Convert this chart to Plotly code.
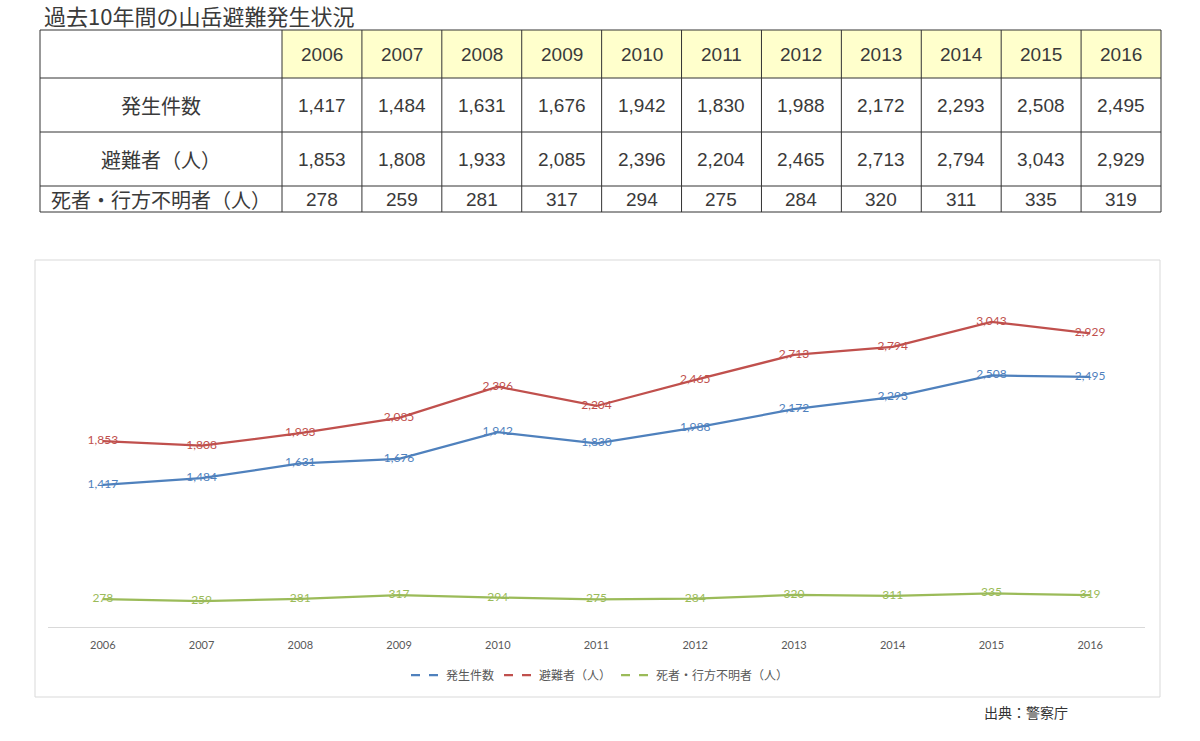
import plotly.graph_objects as go

years = ["2006", "2007", "2008", "2009", "2010", "2011", "2012", "2013", "2014", "2015", "2016"]
incidents = [1417, 1484, 1631, 1676, 1942, 1830, 1988, 2172, 2293, 2508, 2495]
victims = [1853, 1808, 1933, 2085, 2396, 2204, 2465, 2713, 2794, 3043, 2929]
deaths = [278, 259, 281, 317, 294, 275, 284, 320, 311, 335, 319]
row_labels = ["発生件数", "避難者（人）", "死者・行方不明者（人）"]
series_names = ["発生件数", "避難者（人）", "死者・行方不明者（人）"]
colors = ["#4f81bd", "#c0504d", "#9bbb59"]
title_text = "過去10年間の山岳避難発生状況"
source_text = "出典：警察庁"

W, H = 1200, 741
def px(x):
    return x / W
def py(y):
    return 1 - y / H

fig = go.Figure()

series = [incidents, victims, deaths]
for name, vals, col in zip(series_names, series, colors):
    fig.add_trace(go.Scatter(
        x=years, y=vals, mode="lines+text",
        text=[f"{v:,}" for v in vals], textposition="middle center",
        textfont=dict(family="Lato, Noto Sans", size=12, color=col),
        line=dict(color=col, width=2.25), showlegend=False, hoverinfo="skip"))
    fig.add_trace(go.Scatter(
        x=[None], y=[None], mode="lines", name=name,
        line=dict(color=col, width=2.25, dash="dash"), showlegend=True))

shapes = []
annotations = []

# chart border
shapes.append(dict(type="rect", xref="paper", yref="paper",
                   x0=px(35), x1=px(1160), y0=py(697), y1=py(260),
                   line=dict(color="#d9d9d9", width=1), fillcolor="rgba(0,0,0,0)", layer="below"))

# table geometry
tx0, tx1 = 40, 1161
col0 = 282
cw = (tx1 - col0) / len(years)
row_edges = [30, 78, 132, 186, 212]
col_edges = [tx0] + [col0 + i * cw for i in range(len(years) + 1)]

# header yellow
for i in range(len(years)):
    shapes.append(dict(type="rect", xref="paper", yref="paper",
                       x0=px(col_edges[i + 1]), x1=px(col_edges[i + 2]),
                       y0=py(row_edges[1]), y1=py(row_edges[0]),
                       fillcolor="#FFFFCC", line=dict(width=0), layer="below"))
for y in row_edges:
    shapes.append(dict(type="line", xref="paper", yref="paper",
                       x0=px(tx0), x1=px(tx1), y0=py(y), y1=py(y),
                       line=dict(color="#333333", width=1)))
for x in col_edges:
    shapes.append(dict(type="line", xref="paper", yref="paper",
                       x0=px(x), x1=px(x), y0=py(row_edges[0]), y1=py(row_edges[-1]),
                       line=dict(color="#333333", width=1)))

tfont = dict(family="Liberation Sans, Noto Sans CJK JP", size=19, color="#3a3a3a")
jfont = dict(family="Noto Sans CJK JP", size=20, color="#3a3a3a")

def cell_text(text, ci, ri, font):
    xc = (col_edges[ci] + col_edges[ci + 1]) / 2
    yc = (row_edges[ri] + row_edges[ri + 1]) / 2
    annotations.append(dict(text=text, xref="paper", yref="paper", x=px(xc), y=py(yc),
                            xanchor="center", yanchor="middle", showarrow=False, font=font))

for i, yr in enumerate(years):
    cell_text(yr, i + 1, 0, tfont)
for r, (lab, vals) in enumerate(zip(row_labels, series)):
    cell_text(lab, 0, r + 1, jfont)
    for i, v in enumerate(vals):
        cell_text(f"{v:,}", i + 1, r + 1, tfont)

annotations.append(dict(text=title_text, xref="paper", yref="paper", x=px(42), y=py(15),
                        xanchor="left", yanchor="middle", showarrow=False,
                        font=dict(family="Noto Sans CJK JP", size=22, color="#3a3a3a")))
annotations.append(dict(text=source_text, xref="paper", yref="paper", x=px(1026), y=py(712),
                        xanchor="center", yanchor="middle", showarrow=False,
                        font=dict(family="Noto Sans CJK JP", size=14, color="#333333")))

fig.update_layout(
    width=W, height=H, margin=dict(l=0, r=0, t=0, b=0),
    paper_bgcolor="white", plot_bgcolor="white",
    shapes=shapes, annotations=annotations,
    xaxis=dict(type="category", domain=[px(48), px(1145)], showline=True,
               linecolor="#d9d9d9", linewidth=1, showgrid=False, ticks="",
               tickfont=dict(family="Lato, Noto Sans", size=11, color="#595959"),
               ticklabelstandoff=8, fixedrange=True),
    yaxis=dict(domain=[py(627), py(276)], range=[0, 3500], visible=False, fixedrange=True),
    legend=dict(orientation="h", x=0.5, xanchor="center", y=py(675), yanchor="middle",
                font=dict(family="Noto Sans CJK JP", size=12, color="#595959"),
                bgcolor="rgba(0,0,0,0)"),
    showlegend=True,
)

fig.write_html("out.html")
